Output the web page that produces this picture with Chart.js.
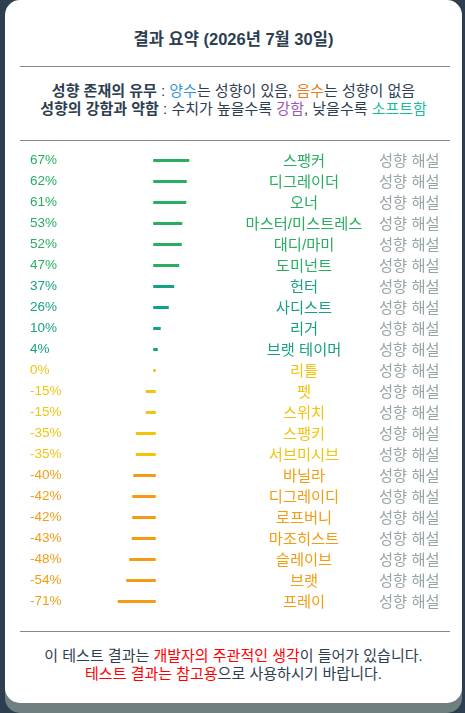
<!DOCTYPE html>
<html lang="ko">
<head>
<meta charset="utf-8">
<script src="https://cdn.jsdelivr.net/npm/chart.js@4.4.1/dist/chart.umd.min.js"></script>
<style>
  html, body { margin: 0; padding: 0; }
  body {
    width: 465px; height: 713px; overflow: hidden;
    background: #2c3e50;
    font-family: "Liberation Sans", Arial, "Noto Sans CJK KR", sans-serif;
    color: #2c3e50;
  }
  .card {
    position: absolute; left: 5px; top: 0; width: 457px; height: 703px;
    background: #fff; border-radius: 15px;
    box-shadow: 0 10px 0 #708081;
  }
  .title {
    position: absolute; left: 0; width: 457px; top: 26px;
    text-align: center; font-size: 16.5px; font-weight: bold;
  }
  .rule {
    position: absolute; left: 15px; width: 430px; height: 0;
    border-top: 1px solid #888;
  }
  .desc, .foot {
    position: absolute; left: 0; width: 457px; text-align: center;
    font-size: 15px; line-height: 18px;
  }
  .desc { top: 82px; }
  .foot { top: 647px; }
  .desc b { color: #2c3e50; }
  .blue { color: #3498db; } .orange { color: #e67e22; }
  .purple { color: #9b59b6; } .teal { color: #1abc9c; }
  .red { color: #ff0000; }
  #wrap { position: absolute; left: 15px; top: 0; width: 430px; height: 703px; }
</style>
</head>
<body>
<div class="card">
  <div class="title">결과 요약 (2026년 7월 30일)</div>
  <div class="rule" style="top:66px"></div>
  <div class="desc">
    <b>성향 존재의 유무</b> : <span class="blue">양수</span>는 성향이 있음, <span class="orange">음수</span>는 성향이 없음<br>
    <b>성향의 강함과 약함</b> : 수치가 높을수록 <span class="purple">강함</span>, 낮을수록 <span class="teal">소프트함</span>
  </div>
  <div class="rule" style="top:140px"></div>
  <div id="wrap"><canvas id="bars" style="position:absolute;left:0;top:149.5px;width:430px;height:462px"></canvas></div>
  <div class="rule" style="top:631px"></div>
  <div class="foot">
    이 테스트 결과는 <span class="red">개발자의 주관적인 생각</span>이 들어가 있습니다.<br>
    <span class="red">테스트 결과는 참고용</span>으로 사용하시기 바랍니다.
  </div>
</div>

<script>
const categories = ["스팽커", "디그레이더", "오너", "마스터/미스트레스", "대디/마미", "도미넌트",
  "헌터", "사디스트", "리거", "브랫 테이머", "리틀", "펫", "스위치", "스팽키", "서브미시브",
  "바닐라", "디그레이디", "로프버니", "마조히스트", "슬레이브", "브랫", "프레이"];
const values = [67, 62, 61, 53, 52, 47, 37, 26, 10, 4, 0, -15, -15, -35, -35, -40, -42, -42, -43, -48, -54, -71];
const linkText = "성향 해설";

function colorFor(v) {
  if (v >= 47) return "#27ae60";
  if (v > 0) return "#16a085";
  if (v >= -35) return "#f1c40f";
  return "#f39c12";
}
const colors = values.map(colorFor);

// percent label, name and link for each row
const rowText = {
  id: "rowText",
  afterDatasetsDraw(chart) {
    const ctx = chart.ctx;
    const y = chart.scales.y;
    ctx.save();
    ctx.textBaseline = "middle";
    values.forEach((v, i) => {
      const py = y.getPixelForValue(i);
      ctx.fillStyle = colors[i];
      ctx.font = '13.5px "Liberation Sans", Arial, "Noto Sans CJK KR"';
      ctx.textAlign = "left";
      ctx.fillText(v + "%", 10, py - 0.5);
      ctx.font = '15.3px "Liberation Sans", Arial, "Noto Sans CJK KR"';
      ctx.textAlign = "center";
      ctx.fillText(categories[i], 284, py + 1);
      ctx.fillStyle = "#95a5a6";
      ctx.textAlign = "left";
      ctx.fillText(linkText, 359, py + 1);
    });
    ctx.restore();
  }
};

const ctx = document.getElementById("bars");
new Chart(ctx, {
  type: "bar",
  data: {
    labels: categories,
    datasets: [{
      data: values,
      backgroundColor: colors,
      barThickness: 0.5,
      inflateAmount: 1.25,
      borderWidth: 0
    }]
  },
  options: {
    indexAxis: "y",
    responsive: false,
    animation: false,
    layout: { padding: 0 },
    plugins: { legend: { display: false }, tooltip: { enabled: false } },
    scales: {
      x: { display: false, min: -269, max: 591 },
      y: { display: false }
    }
  },
  plugins: [rowText]
});
</script>
</body>
</html>
